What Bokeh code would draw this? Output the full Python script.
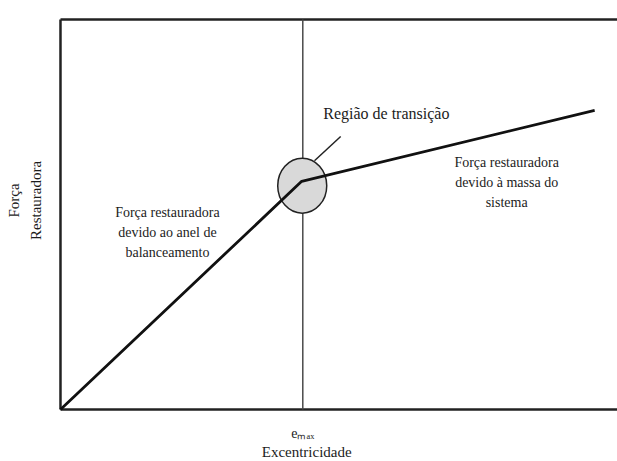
import math
from bokeh.plotting import figure
from bokeh.models import Range1d
from bokeh.core.properties import value
from bokeh.embed import file_html
from bokeh.resources import INLINE

# Data (normalised units)
curve_x = [0.0, 0.433, 0.959]
curve_y = [0.0, 0.585, 0.767]
e_max = 0.435
region_x = [0.434]
region_y = [0.574]
leader_x = [0.456, 0.503]
leader_y = [0.638, 0.700]

region_text = ["Região de transição"]
region_text_x = [0.585]
region_text_y = [0.759]
labels_text = ["Força restauradora\ndevido ao anel de\nbalanceamento",
               "Força restauradora\ndevido à massa do\nsistema"]
labels_x = [0.192, 0.801]
labels_y = [0.454, 0.582]
tick_label = "eₘₐₓ"
x_title = "Excentricidade"
y_title = "Força\nRestauradora"

FONT = "Liberation Serif"
INK = "#1c1c1c"
AX = "#222222"

# axes box in data units
X0, X1, Y0, Y1 = 0.0, 1.0, 0.0, 1.0

p = figure(width=617, height=461, output_backend="svg", toolbar_location=None,
           x_range=Range1d(-0.1077, 1.0), y_range=Range1d(-0.1333, 1.0487),
           min_border=0, background_fill_color="white", border_fill_color="white")
p.outline_line_color = None
p.grid.visible = False
p.axis.visible = False

# box: left, bottom, top
p.segment(x0=[X0, X0, X0], y0=[Y0, Y0, Y1], x1=[X0, X1, X1], y1=[Y1, Y0, Y1],
          line_color=AX, line_width=2.5)
# e_max reference line
p.segment(x0=[e_max], y0=[Y0], x1=[e_max], y1=[Y1], line_color="#4a4a4a", line_width=1.5)

p.ellipse(x=region_x, y=region_y, width=0.088, height=0.141,
          fill_color="#d9d9d9", line_color="#222222", line_width=1.5)
p.line(leader_x, leader_y, line_color="#222222", line_width=1.5)
p.line(curve_x, curve_y, line_color="#111111", line_width=2.8)

p.text(x=region_text_x, y=region_text_y, text=region_text, text_font=value(FONT),
       text_font_size="16px", text_color=INK, text_align="center", text_baseline="middle")
p.text(x=labels_x, y=labels_y, text=labels_text, text_font=value(FONT),
       text_font_size="14px", text_color=INK, text_align="center",
       text_baseline="middle", text_line_height=1.35)

# axis texts
p.text(x=[e_max], y=[-0.0615], text=[tick_label], text_font=value(FONT),
       text_font_size="14px", text_color=INK, text_align="center", text_baseline="middle")
p.text(x=[0.442], y=[-0.1077], text=[x_title], text_font=value(FONT),
       text_font_size="15px", text_color=INK, text_align="center", text_baseline="middle")
p.text(x=[-0.0637], y=[0.536], text=[y_title], text_font=value(FONT), angle=math.pi / 2,
       text_font_size="15px", text_color=INK, text_align="center", text_baseline="middle",
       text_line_height=1.4)

open("out.html", "w").write(file_html(p, INLINE))
